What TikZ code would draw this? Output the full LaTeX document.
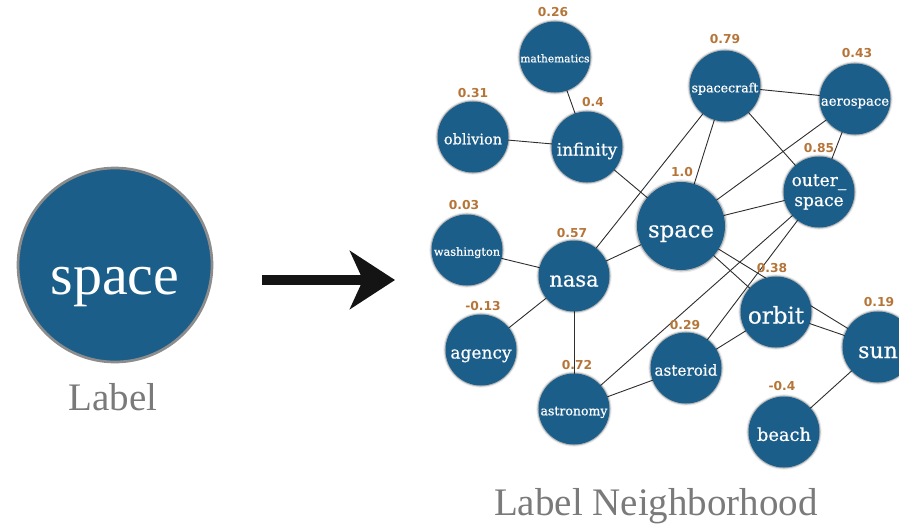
\documentclass[tikz,border=0pt]{standalone}
\usepackage{fontspec}
\setmainfont{Liberation Serif}
\newfontfamily\nodefont[FakeBold=0.6]{DejaVu Serif}
\newfontfamily\numfont{DejaVu Sans}
\usetikzlibrary{arrows.meta,backgrounds,shadows}
\definecolor{nodeblue}{HTML}{1B5E8A}
\definecolor{numcol}{HTML}{B57538}
\definecolor{edgecol}{HTML}{2E2E2E}
\definecolor{capgray}{HTML}{7A7A7A}
\definecolor{ringgray}{HTML}{8C8C8C}
\begin{document}
\begin{tikzpicture}[x=1pt,y=-1pt,
  word/.style={circle, fill=nodeblue, minimum size=71pt, inner sep=0pt,
    text=white, text depth=0pt,
    drop shadow={shadow xshift=0pt, shadow yshift=0pt, shadow scale=1.06, fill=black, opacity=0.08},
    drop shadow={shadow xshift=0pt, shadow yshift=0pt, shadow scale=1.03, fill=black, opacity=0.22}},
  wsize/.style={font=\nodefont\fontsize{#1}{#1}\selectfont, text height=0.52\dimexpr #1pt\relax},
  score/.style={font=\numfont\bfseries\fontsize{12.3}{13}\selectfont, text=numcol, inner sep=0pt},
  link/.style={draw=edgecol, line width=0.9pt},
  caption/.style={font=\fontsize{39}{40}\selectfont, text=capgray, inner sep=0pt, anchor=base},
  bigarrow/.style={draw=black!92, line width=10pt, -{Stealth[length=45pt,width=58pt,inset=13pt]}}
]
\useasboundingbox (0,0) rectangle (899,525);

% left part
\node[circle, fill=nodeblue, draw=ringgray, line width=2.7pt, minimum size=194pt, inner sep=0pt,
      text=white, font=\fontsize{58}{58}\selectfont, text height=0.46\dimexpr 58pt\relax, text depth=0pt]
      (big) at (115,265) {space};
\node[caption] (biglabel) at (113,410) {Label};
\coordinate (arrowstart) at (262,280);
\coordinate (arrowend) at (395,280);
\draw[bigarrow] (arrowstart) -- (arrowend);

% word nodes
\node[word, wsize=10.6] (mathematics) at (555,57) {mathematics};
\node[word, wsize=14.5] (oblivion) at (473,137) {oblivion};
\node[word, wsize=17] (infinity) at (587,147) {infinity};
\node[word, wsize=12.6] (spacecraft) at (725,86) {spacecraft};
\node[word, wsize=13.2] (aerospace) at (855,99) {aerospace};
\node[word, align=center, font=\nodefont\fontsize{17}{20}\selectfont, text height=, text depth=] (outer) at (819,192) {outer\_\\space};
\node[word, wsize=22.7, minimum size=88pt] (space) at (681,226) {space};
\node[word, wsize=11.3] (washington) at (467,250) {washington};
\node[word, wsize=21] (nasa) at (574,276) {nasa};
\node[word, wsize=17] (agency) at (481,350) {agency};
\node[word, wsize=12.5] (astronomy) at (574,409) {astronomy};
\node[word, wsize=15.2] (asteroid) at (686,368) {asteroid};
\node[word, wsize=23] (orbit) at (776,312) {orbit};
\node[word, wsize=17.8] (beach) at (784,432) {beach};
\node[word, wsize=22] (sun) at (878,347) {sun};

% scores
\node[score] (s-mathematics) at (553,12.5) {0.26};
\node[score] (s-oblivion) at (473,93) {0.31};
\node[score] (s-infinity) at (593,102) {0.4};
\node[score] (s-spacecraft) at (725,39) {0.79};
\node[score] (s-aerospace) at (857,53.5) {0.43};
\node[score] (s-outer) at (819,148) {0.85};
\node[score] (s-space) at (682,172) {1.0};
\node[score] (s-washington) at (464,205) {0.03};
\node[score] (s-nasa) at (572,233) {0.57};
\node[score] (s-agency) at (483,306) {-0.13};
\node[score] (s-astronomy) at (577,365) {0.72};
\node[score] (s-asteroid) at (685,325) {0.29};
\node[score] (s-orbit) at (772,268) {0.38};
\node[score] (s-sun) at (879,302) {0.19};
\node[score] (s-beach) at (782,386) {-0.4};

% edges
\begin{scope}[on background layer]
\draw[link] (mathematics.center) -- (infinity.center);
\draw[link] (oblivion.center) -- (infinity.center);
\draw[link] (infinity.center) -- (space.center);
\draw[link] (spacecraft.center) -- (nasa.center);
\draw[link] (spacecraft.center) -- (space.center);
\draw[link] (spacecraft.center) -- (aerospace.center);
\draw[link] (spacecraft.center) -- (outer.center);
\draw[link] (aerospace.center) -- (space.center);
\draw[link] (aerospace.center) -- (outer.center);
\draw[link] (outer.center) -- (space.center);
\draw[link] (outer.center) -- (astronomy.center);
\draw[link] (outer.center) -- (asteroid.center);
\draw[link] (space.center) -- (nasa.center);
\draw[link] (space.center) -- (orbit.center);
\draw[link] (space.center) -- (sun.center);
\draw[link] (orbit.center) -- (sun.center);
\draw[link] (nasa.center) -- (washington.center);
\draw[link] (nasa.center) -- (agency.center);
\draw[link] (nasa.center) -- (astronomy.center);
\draw[link] (astronomy.center) -- (asteroid.center);
\draw[link] (asteroid.center) -- (orbit.center);
\draw[link] (sun.center) -- (beach.center);
\end{scope}

\node[caption] (neighlabel) at (656,515) {Label Neighborhood};
\end{tikzpicture}
\end{document}
